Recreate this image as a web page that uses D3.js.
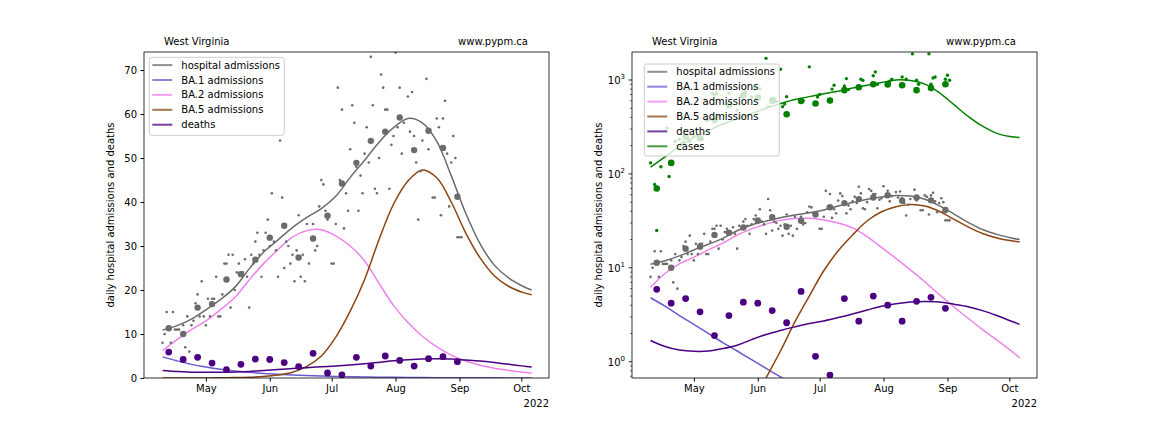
<!DOCTYPE html>
<html><head><meta charset="utf-8">
<script src="https://cdn.jsdelivr.net/npm/d3@7"></script>
<style>body{margin:0;background:#fff} text{font-family:"DejaVu Sans",sans-serif;font-size:10px;fill:#000}</style>
</head><body><svg id="c" width="1152" height="432"></svg>
<script>
// ---------- data ----------
const curveDates = ["04-10","04-17","04-24","05-01","05-08","05-15","05-22","05-29","06-05","06-12","06-19","06-26","07-03","07-10","07-17","07-24","07-31","08-07","08-14","08-21","08-28","09-04","09-11","09-18","09-25","10-02","10-06"];
const hospCurve = [10.9,11.9,13.4,15.5,17.8,20.6,24.8,28.6,31.4,34.2,36.5,38.5,41.3,45.6,49.5,53.6,56.9,59.0,58.0,53.8,46.0,37.5,30.5,25.6,22.7,20.8,20.0];
const ba1Curve = [4.8,3.9,3.1,2.5,2.0,1.6,1.3,1.05,0.85,0.69,0.55,0.45,0.36,0.29,0.23,0.19,0.15,0.12,0.1,0.08,0.065,0.052,0.042,0.034,0.027,0.022,0.02];
const ba2Curve = [6.2,8.7,11.0,13.0,15.5,18.3,22.3,26.0,29.2,32.0,33.5,33.7,32.3,30.0,26.6,21.5,16.5,12.6,9.5,7.1,5.2,3.85,2.9,2.2,1.7,1.3,1.1];
const ba5Curve = [0.0015,0.004,0.009,0.02,0.04,0.09,0.17,0.34,0.67,1.3,2.65,5.0,9.3,15.2,22.4,31.5,39.5,44.8,47.3,45.5,40.0,33.0,27.3,23.2,20.8,19.4,18.9];
const deathCurve = [1.68,1.45,1.33,1.29,1.3,1.38,1.5,1.72,1.95,2.15,2.35,2.55,2.72,2.95,3.22,3.55,3.9,4.15,4.33,4.38,4.33,4.1,3.85,3.5,3.1,2.7,2.5];
const caseCurve = [118,152,195,245,290,340,385,440,500,560,620,665,715,760,820,880,940,1000,985,905,735,550,410,322,270,248,244];

const weekDates = ["04-13","04-20","04-27","05-04","05-11","05-18","05-25","06-01","06-08","06-15","06-22","06-29","07-06","07-13","07-20","07-27","08-03","08-10","08-17","08-24","08-31"];
const hospWeekly = [11.3,10,16,16.8,22.4,23.6,26.9,31.9,34.6,27.4,31.7,36.9,44.2,48.9,53.9,56,59.2,51.8,56.2,52.3,41.2];
const deathWeekly = [5.9,4.2,4.7,3.4,1.9,3.1,4.3,4.2,3.5,2.6,5.6,1.14,0.72,4.7,2.7,5.0,4.0,2.7,4.4,4.85,3.7];
const caseWeekly = [70,131,248,240,375,540,690,650,600,432,598,563,604,780,838,900,895,880,780,820,900];

const hospDaily = [["04-10",8],["04-11",10],["04-12",15],["04-14",8],["04-15",15],["04-16",11],["04-17",11],["04-18",11],["04-20",12],["04-21",7],["04-22",14],["04-23",6],["04-24",12],["04-25",13],["04-26",17],["04-27",19],["04-28",14],["04-29",22],["04-30",14],["05-01",12],["05-02",18],["05-03",14],["05-04",18],["05-05",18],["05-06",23],["05-07",14],["05-08",14],["05-09",19],["05-10",26],["05-11",26],["05-12",28],["05-13",16],["05-14",28],["05-15",20],["05-16",24],["05-17",26],["05-18",24],["05-19",24],["05-20",27],["05-21",23],["05-22",16],["05-23",28],["05-24",26],["05-25",31],["05-26",33],["05-27",28],["05-28",23],["05-29",29],["05-30",33],["05-31",36],["06-01",30],["06-02",42],["06-03",31],["06-04",29],["06-05",23],["06-06",54],["06-07",41],["06-08",25],["06-09",31],["06-10",30],["06-11",26],["06-12",28],["06-13",22],["06-14",29],["06-15",37],["06-16",23],["06-17",28],["06-18",22],["06-19",35],["06-20",26],["06-22",35],["06-23",29],["06-24",30],["06-25",39],["06-26",45],["06-27",44],["06-28",38],["06-29",36],["07-01",26],["07-02",26],["07-03",35],["07-04",66],["07-05",45],["07-06",61],["07-07",34],["07-08",42],["07-09",38],["07-10",52],["07-11",62],["07-12",58],["07-13",48],["07-14",38],["07-15",46],["07-16",42],["07-17",51],["07-18",57],["07-19",49],["07-20",73],["07-21",62],["07-22",43],["07-23",42],["07-24",50],["07-25",69],["07-26",66],["07-27",61],["07-28",61],["07-29",43],["07-30",53],["07-31",55],["08-01",74],["08-02",57],["08-03",66],["08-04",51],["08-05",58],["08-07",64],["08-08",56],["08-09",65],["08-10",55],["08-11",49],["08-12",36],["08-13",47],["08-14",54],["08-16",68],["08-17",52],["08-19",41],["08-20",41],["08-21",59],["08-22",57],["08-23",37],["08-24",59],["08-25",63],["08-26",51],["08-27",39],["08-28",49],["08-29",55],["08-30",50],["08-31",32],["09-01",32],["09-02",32]];

const caseDaily = [["04-10",131],["04-12",77],["04-13",25],["04-15",119],["04-18",307],["04-19",94],["04-22",221],["04-24",234],["04-25",210],["04-26",219],["04-28",240],["04-29",221],["05-01",248],["05-02",294],["05-05",234],["05-07",373],["05-08",376],["05-10",723],["05-11",694],["05-12",723],["05-13",405],["05-16",422],["05-18",723],["05-19",561],["05-22",476],["05-25",723],["05-26",746],["05-29",660],["05-30",817],["05-31",2100],["06-02",810],["06-05",1700],["06-06",520],["06-08",640],["06-09",634],["06-10",588],["06-12",1300],["06-13",520],["06-14",556],["06-15",665],["06-23",600],["06-26",1380],["06-30",660],["07-01",700],["07-05",2100],["07-06",590],["07-07",800],["07-08",880],["07-12",2100],["07-13",865],["07-14",1035],["07-15",790],["07-18",2100],["07-21",1020],["07-22",990],["07-27",1110],["07-28",1220],["07-29",900],["08-04",970],["08-05",1020],["08-10",1075],["08-12",1020],["08-15",1900],["08-17",995],["08-18",900],["08-23",1900],["08-24",900],["08-25",1050],["08-26",1075],["08-31",1020],["09-01",1125],["09-02",995]];

const monthTicks = ["05-01","06-01","07-01","08-01","09-01","10-01"];
const linTicks = [0,10,20,30,40,50,60,70];
const logTicks = [1,10,100,1000];
const logExp = ["0","1","2","3"];
const logMinor = [0.7,0.8,0.9,2,3,4,5,6,7,8,9,20,30,40,50,60,70,80,90,200,300,400,500,600,700,800,900];

const C = {hosp:"#6b6b6b", ba1:"#6a5acd", ba2:"#ee82ee", ba5:"#8b4513", death:"#4b0082", cases:"#008000"};

// ---------- drawing ----------
const parse = d3.timeParse("%Y-%m-%d");
const D = s => parse("2022-" + s);
const svg = d3.select("#c");
const TOP = 52, BOT = 378, W = 405;

function panel(x0, log, id) {
  const x = d3.scaleTime().domain([D("04-01"), new Date(2022, 9, 14, 10)]).range([x0, x0 + W]);
  const y = log ? d3.scaleLog().domain([0.6706, 1987]).range([BOT, TOP])
                : d3.scaleLinear().domain([0, 74.1]).range([BOT, TOP]);
  svg.append("clipPath").attr("id", id).append("rect")
     .attr("x", x0).attr("y", TOP).attr("width", W).attr("height", BOT - TOP);
  const g = svg.append("g").attr("clip-path", `url(#${id})`);
  const cd = curveDates.map(D);
  const line = vals => d3.line().x((d, i) => x(cd[i])).y(d => y(d)).curve(d3.curveCatmullRom.alpha(0.5))(vals);
  const curves = [[hospCurve, C.hosp], [ba1Curve, C.ba1], [ba2Curve, C.ba2], [ba5Curve, C.ba5], [deathCurve, C.death]];
  if (log) curves.push([caseCurve, C.cases]);
  curves.forEach(([v, c]) => g.append("path").attr("d", line(v)).attr("fill", "none").attr("stroke", c).attr("stroke-width", 1.5));
  const dots = (data, r, c) => g.append("g").selectAll("circle").data(data).join("circle")
     .attr("cx", d => x(D(d[0]))).attr("cy", d => y(d[1])).attr("r", r).attr("fill", c);
  dots(hospDaily, 1.3, C.hosp);
  dots(weekDates.map((d, i) => [d, hospWeekly[i]]), 3.2, C.hosp);
  if (log) {
    dots(caseDaily, 1.7, C.cases);
    dots(weekDates.map((d, i) => [d, caseWeekly[i]]), 3.3, C.cases);
  }
  dots(weekDates.map((d, i) => [d, deathWeekly[i]]), 3.4, C.death);

  // frame
  svg.append("rect").attr("x", x0).attr("y", TOP).attr("width", W).attr("height", BOT - TOP)
     .attr("fill", "none").attr("stroke", "#000").attr("stroke-width", 0.8);
  // x axis
  const xa = svg.append("g").attr("transform", `translate(0,${BOT})`)
     .call(d3.axisBottom(x).tickValues(monthTicks.map(D)).tickFormat(d3.timeFormat("%b")).tickSize(3.5).tickPadding(3.5).tickSizeOuter(0));
  xa.select(".domain").remove();
  xa.selectAll("text").attr("font-size", 10).attr("font-family", "DejaVu Sans");
  svg.append("text").attr("x", x0 + W).attr("y", 407).attr("text-anchor", "end").text("2022");
  // y axis
  if (!log) {
    const ya = svg.append("g").attr("transform", `translate(${x0},0)`)
       .call(d3.axisLeft(y).tickValues(linTicks).tickSize(3.5).tickPadding(3.5).tickSizeOuter(0));
    ya.select(".domain").remove();
    ya.selectAll("text").attr("font-size", 10).attr("font-family", "DejaVu Sans");
  } else {
    const ya = svg.append("g");
    logMinor.forEach(v => ya.append("line").attr("x1", x0).attr("x2", x0 - 2).attr("y1", y(v)).attr("y2", y(v)).attr("stroke", "#000").attr("stroke-width", 0.6));
    logTicks.forEach((v, i) => {
      ya.append("line").attr("x1", x0).attr("x2", x0 - 3.5).attr("y1", y(v)).attr("y2", y(v)).attr("stroke", "#000").attr("stroke-width", 0.8);
      const t = ya.append("text").attr("x", x0 - 7).attr("y", y(v) + 4).attr("text-anchor", "end");
      t.append("tspan").text("10");
      t.append("tspan").attr("dy", -5).attr("font-size", 7).text(logExp[i]);
    });
  }
  svg.append("text").attr("transform", `translate(${x0 - 30},${(TOP + BOT) / 2}) rotate(-90)`)
     .attr("text-anchor", "middle").text("daily hospital admissions and deaths");
  // titles
  svg.append("text").attr("x", x0 + 20).attr("y", 45).text("West Virginia");
  svg.append("text").attr("x", x0 + W - 21).attr("y", 45).attr("text-anchor", "end").text("www.pypm.ca");
  return {x, y};
}

function legend(lx, ly, w, h, rows) {
  const g = svg.append("g");
  g.append("rect").attr("x", lx).attr("y", ly).attr("width", w).attr("height", h).attr("rx", 2.5)
   .attr("fill", "#fff").attr("fill-opacity", 0.8).attr("stroke", "#cccccc").attr("stroke-width", 1);
  rows.forEach(([label, c], i) => {
    const yy = ly + 7.8 + i * 14.9;
    g.append("line").attr("x1", lx + 3).attr("x2", lx + 23).attr("y1", yy).attr("y2", yy)
     .attr("stroke", c).attr("stroke-width", 2).attr("stroke-opacity", 0.75);
    g.append("text").attr("x", lx + 32).attr("y", yy).attr("dy", "0.35em").text(label);
  });
}

panel(144, false, "clipL");
panel(632, true, "clipR");
const legRows = [["hospital admissions", C.hosp], ["BA.1 admissions", C.ba1], ["BA.2 admissions", C.ba2], ["BA.5 admissions", C.ba5], ["deaths", C.death]];
legend(149.3, 57.3, 135, 78, legRows);
legend(644.3, 64, 135, 92, legRows.concat([["cases", C.cases]]));
</script></body></html>
